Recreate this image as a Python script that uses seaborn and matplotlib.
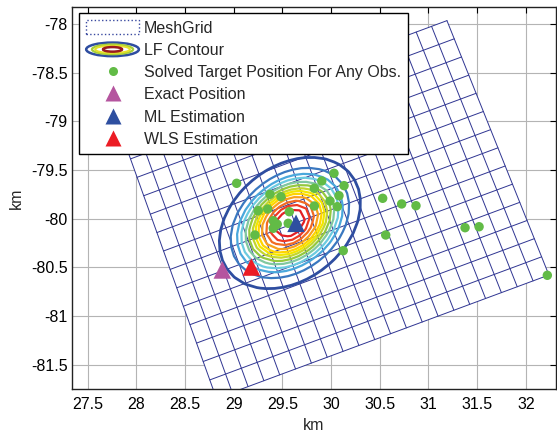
import numpy as np
import pandas as pd
import matplotlib
matplotlib.use("Agg")
import matplotlib.pyplot as plt
import seaborn as sns
from matplotlib.patches import Polygon, Ellipse, Patch
from matplotlib.legend_handler import HandlerBase
from matplotlib.lines import Line2D

# ---------------- data ----------------
obs_x = [29.030, 30.030, 29.904, 30.133, 29.828, 29.372, 29.485, 30.081, 29.989, 29.828,
         30.064, 29.252, 29.349, 29.571, 29.406, 29.447, 29.406, 29.560, 29.218, 30.125,
         30.530, 30.725, 30.872, 30.561, 31.376, 31.520, 32.221]
obs_y = [-79.637, -79.534, -79.613, -79.661, -79.688, -79.750, -79.774, -79.764, -79.819, -79.870,
         -79.877, -79.918, -79.901, -79.929, -80.021, -80.058, -80.099, -80.048, -80.168, -80.329,
         -79.791, -79.849, -79.867, -80.168, -80.093, -80.083, -80.582]
exact_x, exact_y = [28.883], [-80.527]
ml_x, ml_y = [29.640], [-80.048]
wls_x, wls_y = [29.181], [-80.497]

# mesh grid corners (TL, TR, BR, BL) and number of cells
mesh_x = [27.872, 31.190, 32.237, 28.822]
mesh_y = [-79.197, -77.966, -80.579, -81.846]
mesh_cols = 21
mesh_rows = 14

# likelihood-function contour description
lf_center = (29.577, -80.045)
lf_sigma = (0.725, 0.675)
lf_rho = 0.30
lf_levels = [0.21, 0.28, 0.34, 0.40, 0.45, 0.49, 0.53, 0.58, 0.63, 0.69, 0.75, 0.84, 1.00]
lf_colors = ['#e31e24', '#ee3a24', '#f26b22', '#f8a01c', '#ffd400', '#f2e600', '#c4d62e',
             '#94c83e', '#80c8a0', '#6ccbe0', '#4aa8dc', '#3a78c0', '#2e4da0']
lf_widths = [1.6] * 12 + [2.0]

x_ticks = [27.5, 28, 28.5, 29, 29.5, 30, 30.5, 31, 31.5, 32]
y_ticks = [-81.5, -81, -80.5, -80, -79.5, -79, -78.5, -78]

# ---------------- style ----------------
sns.set_style("white")
plt.rcParams['font.family'] = ['Liberation Sans', 'DejaVu Sans']
plt.rcParams['axes.unicode_minus'] = False
FS = 11.5

fig = plt.figure(figsize=(5.57, 4.32), dpi=100)
ax = fig.add_axes([72 / 557, 1 - 389 / 432, 484 / 557, (389 - 7.3) / 432])
ax.set_xlim(27.339, 32.31)
ax.set_ylim(-81.75, -77.829)

ax.set_axisbelow(True)
ax.grid(True, color='#b4b4b4', lw=0.8)

# ---------------- mesh ----------------
TL = np.array([mesh_x[0], mesh_y[0]])
TR = np.array([mesh_x[1], mesh_y[1]])
BR = np.array([mesh_x[2], mesh_y[2]])
BL = np.array([mesh_x[3], mesh_y[3]])


def bilinear(s, t):
    s = np.asarray(s)[..., None]
    t = np.asarray(t)[..., None]
    return (1 - s) * (1 - t) * TL + s * (1 - t) * TR + (1 - s) * t * BL + s * t * BR


ax.add_patch(Polygon([TL, TR, BR, BL], closed=True, facecolor='white', edgecolor='none', zorder=1.5))
mesh_color = '#2f3592'
tt = np.linspace(0, 1, 50)
for i in range(mesh_cols + 1):
    P = bilinear(np.full_like(tt, i / mesh_cols), tt)
    ax.plot(P[:, 0], P[:, 1], color=mesh_color, lw=0.7, zorder=2)
for j in range(mesh_rows + 1):
    P = bilinear(tt, np.full_like(tt, j / mesh_rows))
    ax.plot(P[:, 0], P[:, 1], color=mesh_color, lw=0.7, zorder=2)

# ---------------- contour ----------------
S, T = np.meshgrid(np.linspace(0, 1, mesh_cols * 2 + 1), np.linspace(0, 1, mesh_rows * 2 + 1))
G = bilinear(S, T)
GX, GY = G[..., 0], G[..., 1]
u = (GX - lf_center[0]) / lf_sigma[0]
v = (GY - lf_center[1]) / lf_sigma[1]
R = np.sqrt((u ** 2 - 2 * lf_rho * u * v + v ** 2) / (1 - lf_rho ** 2))
ax.contour(GX, GY, R, levels=lf_levels, colors=lf_colors, linewidths=lf_widths, zorder=3)

# ---------------- points ----------------
obs_df = pd.DataFrame({'x': obs_x, 'y': obs_y})
sns.scatterplot(data=obs_df, x='x', y='y', color='#62bb46', s=46, edgecolor='none', ax=ax,
                zorder=4, legend=False)
sns.scatterplot(x=exact_x, y=exact_y, marker='^', color='#b5559f', s=160, edgecolor='none', ax=ax, zorder=5)
sns.scatterplot(x=wls_x, y=wls_y, marker='^', color='#ec1c24', s=160, edgecolor='none', ax=ax, zorder=5)
sns.scatterplot(x=ml_x, y=ml_y, marker='^', color='#2e4fa0', s=160, edgecolor='none', ax=ax, zorder=5)

# ---------------- axes cosmetics ----------------
ax.set_xticks(x_ticks)
ax.set_xticklabels(['%g' % v for v in x_ticks])
ax.set_yticks(y_ticks)
ax.set_yticklabels(['%g' % v for v in y_ticks])
ax.tick_params(direction='in', length=4, width=0.8, top=True, right=True, labelsize=FS,
               colors='black')
ax.tick_params(axis='x', pad=6)
ax.tick_params(axis='y', pad=3.2)
for sp in ax.spines.values():
    sp.set_color('#222222')
    sp.set_linewidth(1.0)
    sp.set_zorder(10)
ax.set_xlabel('km', fontsize=FS, labelpad=4)
ax.set_ylabel('km', fontsize=FS, labelpad=5)


# ---------------- legend ----------------
class LFHandle:
    pass


class LFHandler(HandlerBase):
    def create_artists(self, legend, orig_handle, xdescent, ydescent, width, height, fontsize, trans):
        cx = width / 2 - xdescent
        cy = height / 2 - ydescent
        specs = [(1.0, 0.95, '#2e4da0', 1.8), (0.78, 0.68, '#a6ce39', 1.6),
                 (0.66, 0.5, '#e6e12a', 1.4), (0.36, 0.32, '#9b1b1e', 1.8)]
        arts = []
        for fw, fh, col, lw in specs:
            arts.append(Ellipse((cx, cy), width * fw, height * fh, facecolor='none',
                                edgecolor=col, lw=lw, transform=trans))
        return arts


handles = [
    Patch(facecolor='white', edgecolor='#3a4aa0', linestyle=':', lw=1.0),
    LFHandle(),
    Line2D([], [], ls='none', marker='o', ms=6.5, color='#62bb46', mec='none'),
    Line2D([], [], ls='none', marker='^', ms=12, color='#b5559f', mec='none'),
    Line2D([], [], ls='none', marker='^', ms=12, color='#2e4fa0', mec='none'),
    Line2D([], [], ls='none', marker='^', ms=12, color='#ec1c24', mec='none'),
]
labels = ['MeshGrid', 'LF Contour', 'Solved Target Position For Any Obs.', 'Exact Position',
          'ML Estimation', 'WLS Estimation']
leg = ax.legend(handles, labels, handler_map={LFHandle: LFHandler()}, loc='upper left',
                bbox_to_anchor=((79 - 72) / 484, (389 - 12.7) / 381.7), borderaxespad=0,
                fontsize=FS, frameon=True, fancybox=False, framealpha=1, edgecolor='black',
                handlelength=3.3, handleheight=1.0, handletextpad=0.3, labelspacing=0.42,
                borderpad=0.45)
leg.get_frame().set_linewidth(1.0)
leg.set_zorder(20)

fig.savefig('out.png', dpi=100)
